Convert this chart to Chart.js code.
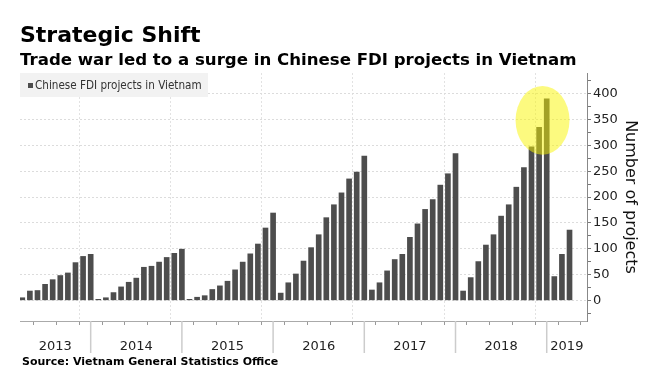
<!DOCTYPE html>
<html>
<head>
<meta charset="utf-8">
<script src="https://cdn.jsdelivr.net/npm/chart.js@4.4.1/dist/chart.umd.min.js"></script>
<style>
  html, body { margin: 0; padding: 0; background: #fff; }
  #wrap { position: relative; width: 646px; height: 384px; overflow: hidden; font-family: 'DejaVu Sans', Verdana, sans-serif; }
  #chart { position: absolute; left: 0; top: 0; }
  .txt { position: absolute; left: 20px; white-space: nowrap; color: #000; font-weight: bold; line-height: 1; }
  #title { top: 24px; font-size: 22px; }
  #subtitle { top: 52px; font-size: 16.6px; }
  #source { top: 356px; left: 22px; font-size: 11px; }
</style>
</head>
<body>
<div id="wrap">
  <canvas id="chart" width="646" height="384"></canvas>
  <div class="txt" id="title">Strategic Shift</div>
  <div class="txt" id="subtitle">Trade war led to a surge in Chinese FDI projects in Vietnam</div>
  <div class="txt" id="source">Source: Vietnam General Statistics Office</div>
</div>
<script>
  // monthly cumulative number of new Chinese FDI projects (year to date)
  const months = [
    '2013-03','2013-04','2013-05','2013-06','2013-07','2013-08','2013-09','2013-10','2013-11','2013-12',
    '2014-01','2014-02','2014-03','2014-04','2014-05','2014-06','2014-07','2014-08','2014-09','2014-10','2014-11','2014-12',
    '2015-01','2015-02','2015-03','2015-04','2015-05','2015-06','2015-07','2015-08','2015-09','2015-10','2015-11','2015-12',
    '2016-01','2016-02','2016-03','2016-04','2016-05','2016-06','2016-07','2016-08','2016-09','2016-10','2016-11','2016-12',
    '2017-01','2017-02','2017-03','2017-04','2017-05','2017-06','2017-07','2017-08','2017-09','2017-10','2017-11','2017-12',
    '2018-01','2018-02','2018-03','2018-04','2018-05','2018-06','2018-07','2018-08','2018-09','2018-10','2018-11','2018-12',
    '2019-01','2019-02','2019-03'
  ];
  const projects = [
    5, 18, 19, 31, 40, 48, 53, 73, 85, 89,
    2, 5, 15, 26, 35, 43, 64, 66, 74, 83, 91, 99,
    2, 6, 9, 21, 28, 37, 59, 74, 90, 109, 140, 169,
    14, 34, 51, 76, 102, 127, 160, 185, 208, 235, 248, 279,
    20, 34, 57, 79, 89, 122, 148, 176, 195, 223, 245, 284,
    18, 44, 75, 107, 127, 163, 185, 219, 257, 297, 335, 390,
    46, 89, 136
  ];
  const years = ['2013', '2014', '2015', '2016', '2017', '2018', '2019'];
  const yTicks = [0, 50, 100, 150, 200, 250, 300, 350, 400];

  const firstYear = 2013;
  // month end position: Dec 2013 -> 12, Jan 2014 -> 13 ...
  const monthPos = m => (parseInt(m.slice(0, 4)) - firstYear) * 12 + parseInt(m.slice(5, 7));
  const quarterTicks = months.filter(m => parseInt(m.slice(5, 7)) % 3 === 0).map(monthPos);
  const minorY = [];
  for (let v = -25; v <= 425; v += 25) minorY.push(v);

  const highlight = { xMin: 67.9, xMax: 75.0, yMin: 282, yMax: 415 };

  const decor = {
    id: 'decor',
    afterDatasetsDraw(chart) {
      const { ctx } = chart;
      const x = chart.scales.x, y = chart.scales.y;
      const x1 = x.getPixelForValue(highlight.xMin), x2 = x.getPixelForValue(highlight.xMax);
      const y1 = y.getPixelForValue(highlight.yMax), y2 = y.getPixelForValue(highlight.yMin);
      ctx.save();
      ctx.fillStyle = 'rgba(250, 245, 0, 0.5)';
      ctx.beginPath();
      ctx.ellipse((x1 + x2) / 2, (y1 + y2) / 2, (x2 - x1) / 2, (y2 - y1) / 2, 0, 0, Math.PI * 2);
      ctx.fill();
      ctx.restore();
    },
    afterDraw(chart) {
      const { ctx, chartArea } = chart;
      const x = chart.scales.x;
      ctx.save();
      // legend box
      ctx.fillStyle = '#f2f2f2';
      ctx.fillRect(20, 73, 188, 24);
      ctx.fillStyle = '#4d4d4d';
      ctx.fillRect(28, 83, 5, 5);
      ctx.fillStyle = '#333';
      ctx.font = '11.6px "DejaVu Sans Condensed", "DejaVu Sans", sans-serif';
      ctx.textBaseline = 'middle';
      ctx.textAlign = 'left';
      ctx.fillText(chart.data.datasets[0].label, 35, 86);
      // year separators and labels
      ctx.strokeStyle = '#cccccc';
      ctx.lineWidth = 1.5;
      ctx.font = '13px "DejaVu Sans", sans-serif';
      ctx.textAlign = 'center';
      years.forEach((yr, i) => {
        const start = i * 12, end = start + 12;
        if (i > 0) {
          const px = x.getPixelForValue(start);
          ctx.beginPath();
          ctx.moveTo(px, chartArea.bottom);
          ctx.lineTo(px, chartArea.bottom + 32);
          ctx.stroke();
        }
        const a = x.getPixelForValue(Math.max(start, x.min));
        const b = x.getPixelForValue(Math.min(end, x.max));
        ctx.fillStyle = '#222';
        ctx.fillText(yr, (a + b) / 2, chartArea.bottom + 26);
      });
      ctx.restore();
    }
  };

  new Chart(document.getElementById('chart'), {
    type: 'bar',
    data: {
      datasets: [{
        label: 'Chinese FDI projects in Vietnam',
        data: months.map((m, i) => ({ x: monthPos(m), y: projects[i] })),
        backgroundColor: '#4d4d4d',
        barThickness: 5,
        borderWidth: 0
      }]
    },
    options: {
      responsive: false,
      animation: false,
      layout: { padding: { top: 73, left: 20, right: 0, bottom: 0 } },
      plugins: { legend: { display: false }, tooltip: { enabled: false } },
      scales: {
        x: {
          type: 'linear',
          min: 2.7,
          max: 77.3,
          offset: false,
          afterBuildTicks: s => { s.ticks = quarterTicks.map(v => ({ value: v })); },
          afterFit: s => { s.height = 63; },
          ticks: { display: false, autoSkip: false },
          grid: {
            color: c => (c.tick && c.tick.value % 12 === 0) ? '#e2e2e2' : 'rgba(0,0,0,0)',
            tickColor: '#999',
            tickLength: 4
          },
          border: { color: '#aaa', dash: [2, 2] }
        },
        y: {
          position: 'right',
          min: -40,
          max: 440,
          afterBuildTicks: s => { s.ticks = minorY.map(v => ({ value: v })); },
          afterFit: s => { s.width = 59; },
          ticks: {
            autoSkip: false,
            callback: v => yTicks.includes(v) ? v : '',
            font: { family: '"DejaVu Sans", sans-serif', size: 13 },
            color: '#222',
            padding: 2
          },
          grid: {
            color: c => (c.tick && yTicks.includes(c.tick.value)) ? '#dcdcdc' : 'rgba(0,0,0,0)',
            tickColor: '#777',
            tickLength: 4
          },
          border: { color: '#888', dash: [2, 2] },
          title: {
            display: true,
            text: 'Number of projects',
            font: { family: '"DejaVu Sans", sans-serif', size: 16 },
            color: '#111',
            padding: { top: 6, bottom: 0 }
          }
        }
      }
    },
    plugins: [decor]
  });
</script>
</body>
</html>
